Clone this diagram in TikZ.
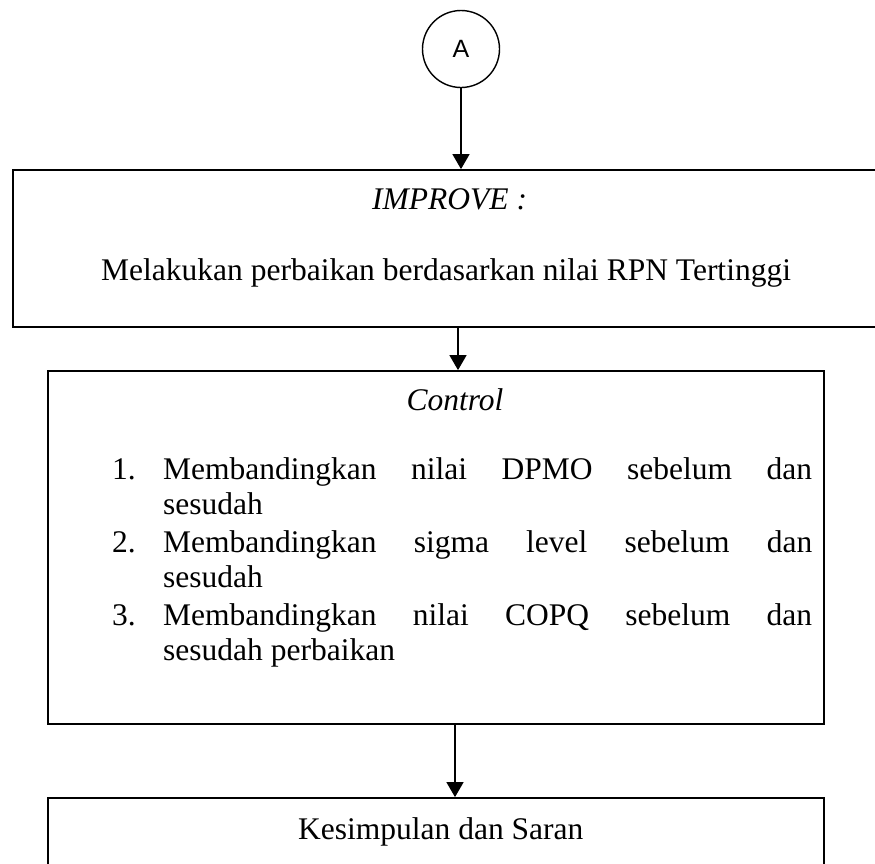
\documentclass[tikz,border=0pt]{standalone}
\usepackage{fontspec}
\setmainfont{Liberation Serif}
\newfontfamily\labelsans{Liberation Sans}
\usetikzlibrary{arrows.meta}
\tikzset{
  boxshape/.style={draw, line width=1.8pt, rectangle, inner sep=0pt},
  arr/.style={line width=1.5pt, -{Triangle[width=17pt,length=15pt]}},
  txt/.style={inner sep=0pt, font=\fontsize{31.5}{36}\selectfont},
  itxt/.style={txt, font=\fontsize{31.5}{36}\selectfont\itshape},
}
\begin{document}
\begin{tikzpicture}[x=1pt,y=-1pt]
\useasboundingbox (0,0) rectangle (875,863);
% connector circle
\node[draw, circle, line width=1.4pt, minimum size=77pt, inner sep=0pt, font=\labelsans\fontsize{25}{29}\selectfont] (A) at (461,49) {A};
% boxes
\node[boxshape, minimum width=867pt, minimum height=157pt] (b1) at (446.5,248.5) {};
\node[boxshape, minimum width=776pt, minimum height=353pt] (b2) at (436,547.5) {};
\node[boxshape, minimum width=776pt, minimum height=100pt] (b3) at (436,848) {};
% columns of the connectors
\coordinate (x2) at (458,0);
\coordinate (x3) at (455,0);
% texts of box 1
\node[itxt, anchor=base west] (t1) at (372,209) {IMPROVE :};
\node[txt, anchor=base west] (t2) at (101,280) {Melakukan perbaikan berdasarkan nilai RPN Tertinggi};
% texts of box 2
\node[itxt, anchor=base] (c0) at (455,410) {Control};
\node[txt, anchor=base west] (n1) at (112,479) {1.};
\node[txt, anchor=base west] (l1a) at (163,479) {\makebox[649pt][s]{Membandingkan nilai DPMO sebelum dan}};
\node[txt, anchor=base west] (l1b) at (163,514) {sesudah};
\node[txt, anchor=base west] (n2) at (112,552) {2.};
\node[txt, anchor=base west] (l2a) at (163,552) {\makebox[649pt][s]{Membandingkan sigma level sebelum dan}};
\node[txt, anchor=base west] (l2b) at (163,587) {sesudah};
\node[txt, anchor=base west] (n3) at (112,625) {3.};
\node[txt, anchor=base west] (l3a) at (163,625) {\makebox[649pt][s]{Membandingkan nilai COPQ sebelum dan}};
\node[txt, anchor=base west] (l3b) at (163,660) {sesudah perbaikan};
% text of box 3
\node[txt, anchor=base west] (k) at (298,839) {Kesimpulan dan Saran};
% connectors
\draw[arr] (A.south) -- (A.south |- b1.north);
\draw[arr] (b1.south -| x2) -- (b2.north -| x2);
\draw[arr] (b2.south -| x3) -- (b3.north -| x3);
\end{tikzpicture}
\end{document}
